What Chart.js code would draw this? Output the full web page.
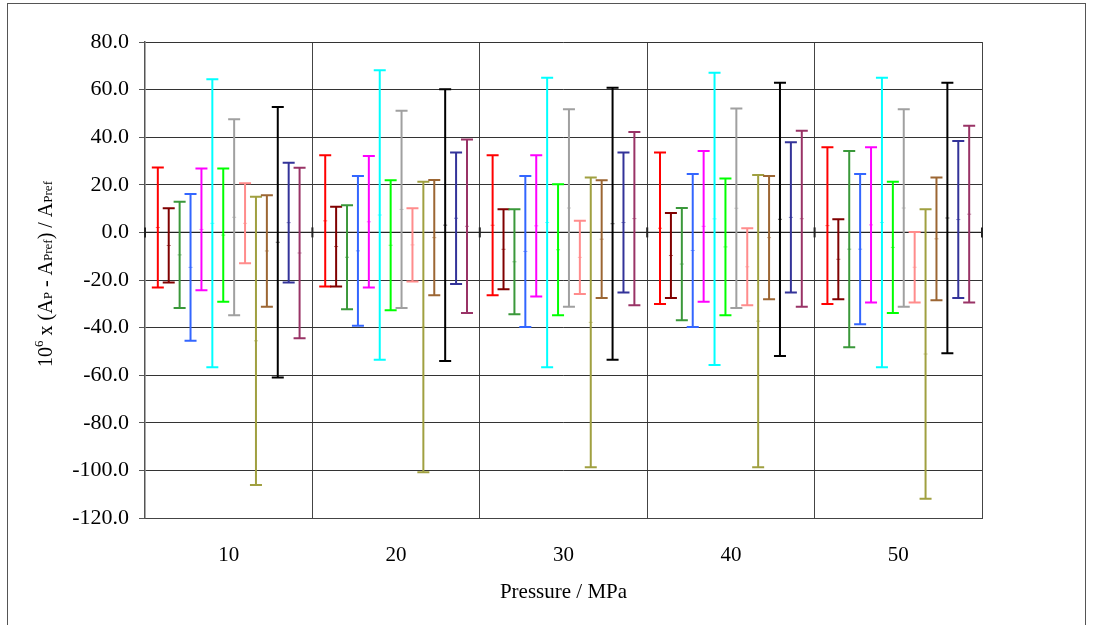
<!DOCTYPE html>
<html>
<head>
<meta charset="utf-8">
<script src="https://cdn.jsdelivr.net/npm/chart.js@4/dist/chart.umd.min.js"></script>
<style>
  html, body { margin: 0; padding: 0; background: #fff; overflow: hidden; }
  #frame { position: absolute; left: 7px; top: 3px; width: 1077px; height: 700px; border: 1.5px solid #555; }
  #wrap { position: absolute; left: 0; top: 0; width: 1093px; height: 625px; }
</style>
</head>
<body>
<div id="frame"></div>
<div id="wrap"><canvas id="chart"></canvas></div>
<script>
// pressure categories (MPa)
const pressures = ['10', '20', '30', '40', '50'];

// one entry per series, values at 10..50 MPa
const seriesNames = ['S1', 'S2', 'S3', 'S4', 'S5', 'S6', 'S7', 'S8', 'S9', 'S10', 'S11', 'S12', 'S13', 'S14'];
const seriesColors = ['#ff0000', '#800000', '#3a983a', '#3366ff', '#ff00ff', '#00ffff', '#00ff00',
                      '#a0a0a0', '#ff8c8c', '#a0a040', '#9c6633', '#000000', '#333399', '#993366'];

const upper = [
    [27.3, 32.4, 32.4, 33.6, 35.8],
    [10.1, 10.8, 9.7, 8.2, 5.5],
    [12.9, 11.4, 9.7, 10.3, 34.2],
    [16.1, 23.7, 23.7, 24.5, 24.5],
    [26.8, 32.1, 32.4, 34.2, 35.8],
    [64.3, 68.1, 65.0, 67.1, 65.0],
    [26.8, 21.9, 20.2, 22.6, 21.3],
    [47.5, 51.1, 51.7, 52.1, 51.7],
    [20.6, 10.1, 4.9, 1.7, 0.2],
    [15.0, 21.3, 23.1, 24.1, 9.7],
    [15.6, 22.0, 21.9, 23.7, 23.1],
    [52.7, 60.1, 60.8, 62.9, 62.9],
    [29.3, 33.6, 33.6, 37.9, 38.4],
    [27.2, 39.0, 42.2, 42.7, 44.8]
];

const lower = [
    [-23.2, -22.7, -26.4, -30.1, -30.1],
    [-21.1, -22.7, -23.9, -27.6, -28.1],
    [-31.8, -32.3, -34.4, -36.9, -48.3],
    [-45.5, -39.2, -39.7, -39.7, -38.6],
    [-24.3, -23.2, -26.9, -29.1, -29.5],
    [-56.7, -53.5, -56.7, -55.7, -56.7],
    [-29.1, -32.7, -34.8, -34.8, -33.9],
    [-34.8, -31.8, -31.2, -31.8, -31.2],
    [-13.0, -20.6, -25.9, -30.6, -29.5],
    [-106.1, -100.8, -98.7, -98.7, -111.9],
    [-31.2, -26.4, -27.6, -28.1, -28.5],
    [-61.0, -54.0, -53.5, -51.9, -50.8],
    [-21.1, -21.7, -25.3, -25.3, -27.6],
    [-44.5, -33.9, -30.6, -31.2, -29.5]
];

const FONT = '"Liberation Serif", "Times New Roman", serif';

const datasets = seriesNames.map(function(name, s) {
    return {
        label: name,
        data: lower[s].map(function(lo, i) { return [lo, upper[s][i]]; }),
        backgroundColor: seriesColors[s],
        borderWidth: 0,
        barPercentage: 0.2,
        categoryPercentage: 0.912,
        maxBarThickness: 2
    };
});

// caps + small middle marks on every error bar
const capsPlugin = {
    id: 'caps',
    afterDatasetsDraw(chart) {
        const ctx = chart.ctx;
        ctx.save();
        chart.data.datasets.forEach(function(ds, di) {
            const meta = chart.getDatasetMeta(di);
            meta.data.forEach(function(bar) {
                const top = Math.min(bar.y, bar.base);
                const bot = Math.max(bar.y, bar.base);
                ctx.strokeStyle = ds.backgroundColor;
                ctx.lineWidth = 2;
                ctx.beginPath();
                ctx.moveTo(bar.x - 6, top); ctx.lineTo(bar.x + 6, top);
                ctx.moveTo(bar.x - 6, bot); ctx.lineTo(bar.x + 6, bot);
                ctx.stroke();
                const mid = (top + bot) / 2;
                ctx.lineWidth = 1;
                ctx.globalAlpha = 0.6;
                ctx.beginPath();
                ctx.moveTo(bar.x - 2, mid); ctx.lineTo(bar.x + 2, mid);
                ctx.stroke();
                ctx.globalAlpha = 1;
            });
        });
        ctx.restore();
    }
};

// zero line ticks at category boundaries + rich y title
const axisPlugin = {
    id: 'axisExtras',
    beforeDatasetsDraw(chart) {
        const ctx = chart.ctx;
        const x = chart.scales.x, y = chart.scales.y;
        const y0 = y.getPixelForValue(0);
        ctx.save();
        ctx.strokeStyle = '#222';
        ctx.lineWidth = 1.3;
        ctx.beginPath();
        ctx.moveTo(x.left, y0); ctx.lineTo(x.right, y0);
        ctx.stroke();
        ctx.lineWidth = 2;
        const step = (x.right - x.left) / pressures.length;
        for (let i = 0; i <= pressures.length; i++) {
            const px = x.left + step * i;
            ctx.beginPath();
            ctx.moveTo(px, y0 - 5); ctx.lineTo(px, y0 + 5);
            ctx.stroke();
        }
        ctx.restore();
    },
    afterDraw(chart) {
        const ctx = chart.ctx;
        const area = chart.chartArea;
        const parts = [
            ['10', 20, 0], ['6', 13, -9], [' x (A', 20, 0], ['P', 13, 0], [' - A', 20, 0],
            ['Pref', 13, 0], [') / A', 20, 0], ['Pref', 13, 0]
        ];
        ctx.save();
        let total = 0;
        parts.forEach(function(p) { ctx.font = p[1] + 'px ' + FONT; total += ctx.measureText(p[0]).width; });
        ctx.translate(52, (area.top + area.bottom) / 2 - 6);
        ctx.rotate(-Math.PI / 2);
        ctx.fillStyle = '#000';
        ctx.textBaseline = 'alphabetic';
        let cx = -total / 2;
        parts.forEach(function(p) {
            ctx.font = p[1] + 'px ' + FONT;
            ctx.fillText(p[0], cx, p[2]);
            cx += ctx.measureText(p[0]).width;
        });
        ctx.restore();
    }
};

new Chart(document.getElementById('chart').getContext('2d'), {
    type: 'bar',
    data: { labels: pressures, datasets: datasets },
    options: {
        responsive: true,
        maintainAspectRatio: false,
        animation: false,
        layout: { padding: { left: 0, top: 42, right: 111, bottom: 16 } },
        plugins: {
            legend: { display: false },
            tooltip: { enabled: false }
        },
        scales: {
            x: {
                grid: { offset: true, color: '#444', lineWidth: 1, drawTicks: false },
                border: { color: '#444', width: 1 },
                ticks: { color: '#000', font: { family: FONT, size: 21 }, padding: 25 },
                title: { display: true, text: 'Pressure / MPa', color: '#000',
                         font: { family: FONT, size: 21 }, padding: { top: 4, bottom: 4 } },
                afterFit(scale) { scale.height = 91; }
            },
            y: {
                min: -120,
                max: 80,
                grid: { color: '#333', lineWidth: 1, tickLength: 6, tickColor: '#555' },
                border: { color: '#555', width: 1.5 },
                ticks: {
                    stepSize: 20,
                    color: '#000',
                    padding: 10,
                    font: { family: FONT, size: 22 },
                    callback: function(v) { return v.toFixed(1); }
                },
                afterFit(scale) { scale.width = 145; }
            }
        }
    },
    plugins: [capsPlugin, axisPlugin]
});
</script>
</body>
</html>
